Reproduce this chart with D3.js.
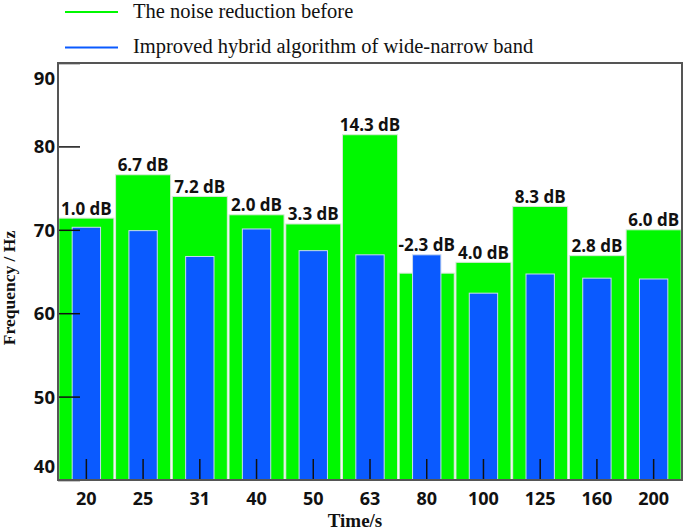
<!DOCTYPE html>
<html><head><meta charset="utf-8">
<script src="https://cdn.jsdelivr.net/npm/d3@7"></script>
<style>body{margin:0;background:#fff}</style>
</head><body>
<svg id="c" width="685" height="532"></svg>
<script>
const categories = ["20","25","31","40","50","63","80","100","125","160","200"];
const beforeValues = [71.4,76.6,74.0,71.8,70.7,81.4,64.8,66.1,72.8,66.9,70.0];
const improvedValues = [70.3,69.9,66.8,70.1,67.5,67.0,67.0,62.4,64.7,64.2,64.1];
const reductionLabels = ["1.0 dB","6.7 dB","7.2 dB","2.0 dB","3.3 dB","14.3 dB","-2.3 dB","4.0 dB","8.3 dB","2.8 dB","6.0 dB"];
const yTicks = [40,50,60,70,80,90];
const seriesNames = ["The noise reduction before","Improved hybrid algorithm of wide-narrow band"];
const seriesColors = ["#00f800","#0a5aff"];

const svg = d3.select("#c");
const L=58, R=682, T=63, B=480;
const x = d3.scaleBand().domain(categories).range([L,R]).paddingInner(0.03).paddingOuter(0.015);
const y = d3.scaleLinear().domain([40,90]).range([B,T]);
const step = x.step();

const sans = "'Open Sans', 'Noto Sans', sans-serif";
const serif = "'Liberation Serif', 'DejaVu Serif', serif";

// green bars
svg.append("g").selectAll("rect").data(categories).join("rect")
  .attr("x", d=>x(d)).attr("width", x.bandwidth())
  .attr("y", (d,i)=>y(beforeValues[i])).attr("height",(d,i)=>B-y(beforeValues[i]))
  .attr("fill", seriesColors[0]).attr("stroke","#d8e8d8").attr("stroke-width",1);

// blue bars
const bw = step*0.5;
svg.append("g").selectAll("rect").data(categories).join("rect")
  .attr("x", d=>x(d)+x.bandwidth()/2-bw/2).attr("width", bw)
  .attr("y", (d,i)=>y(improvedValues[i])).attr("height",(d,i)=>B-y(improvedValues[i]))
  .attr("fill", seriesColors[1]).attr("stroke","#c8d8f0").attr("stroke-width",1);

// value labels
svg.append("g").selectAll("text").data(categories).join("text")
  .attr("x", d=>x(d)+x.bandwidth()/2)
  .attr("y", (d,i)=>y(Math.max(beforeValues[i],improvedValues[i]))-3.5)
  .attr("text-anchor","middle")
  .style("font-family",sans).style("font-weight","bold").style("font-size","17px")
  .attr("fill","#111")
  .text((d,i)=>reductionLabels[i]);

// y axis
const ya = svg.append("g").attr("transform",`translate(${L},0)`)
  .call(d3.axisLeft(y).tickValues(yTicks).tickSizeInner(-22).tickSizeOuter(0).tickPadding(25));
ya.select(".domain").remove();
ya.selectAll(".tick line").attr("stroke","#111").attr("stroke-width",1.5);
ya.selectAll(".tick text")
  .attr("x",-3).attr("dy",d=> d===90? "1.15em" : d===40 ? "-0.4em" : "0.35em")
  .style("font-family",sans).style("font-weight","bold").style("font-size","18.5px").attr("fill","#111");

// x axis
const xa = svg.append("g").attr("transform",`translate(0,${B})`)
  .call(d3.axisBottom(x).tickSizeInner(-21).tickSizeOuter(0).tickPadding(8));
xa.select(".domain").remove();
xa.selectAll(".tick line").attr("stroke","#111").attr("stroke-width",1.5);
xa.selectAll(".tick text").attr("y",8).attr("dy","0.95em")
  .style("font-family",sans).style("font-weight","bold").style("font-size","18px").attr("fill","#111");

// frame
svg.append("rect").attr("x",L).attr("y",T).attr("width",R-L).attr("height",B-T)
  .attr("fill","none").attr("stroke","#555").attr("stroke-width",2);

// axis titles
svg.append("text").attr("x",355).attr("y",527).attr("text-anchor","middle")
  .style("font-family",serif).style("font-weight","bold").style("font-size","19px").attr("fill","#111")
  .text("Time/s");
svg.append("text").attr("transform","translate(15,288) rotate(-90)").attr("text-anchor","middle")
  .style("font-family",serif).style("font-weight","bold").style("font-size","17.5px").attr("fill","#111")
  .text("Frequency / Hz");

// legend
const lg = svg.append("g");
seriesNames.forEach((n,i)=>{
  const yy = 12 + i*35.5;
  lg.append("line").attr("x1",65).attr("x2",118).attr("y1",yy).attr("y2",yy)
    .attr("stroke",seriesColors[i]).attr("stroke-width",2);
  lg.append("text").attr("x",133).attr("y",yy+5.5)
    .style("font-family",serif).style("font-size","20.5px").attr("fill","#111").text(n);
});
</script>
</body></html>
